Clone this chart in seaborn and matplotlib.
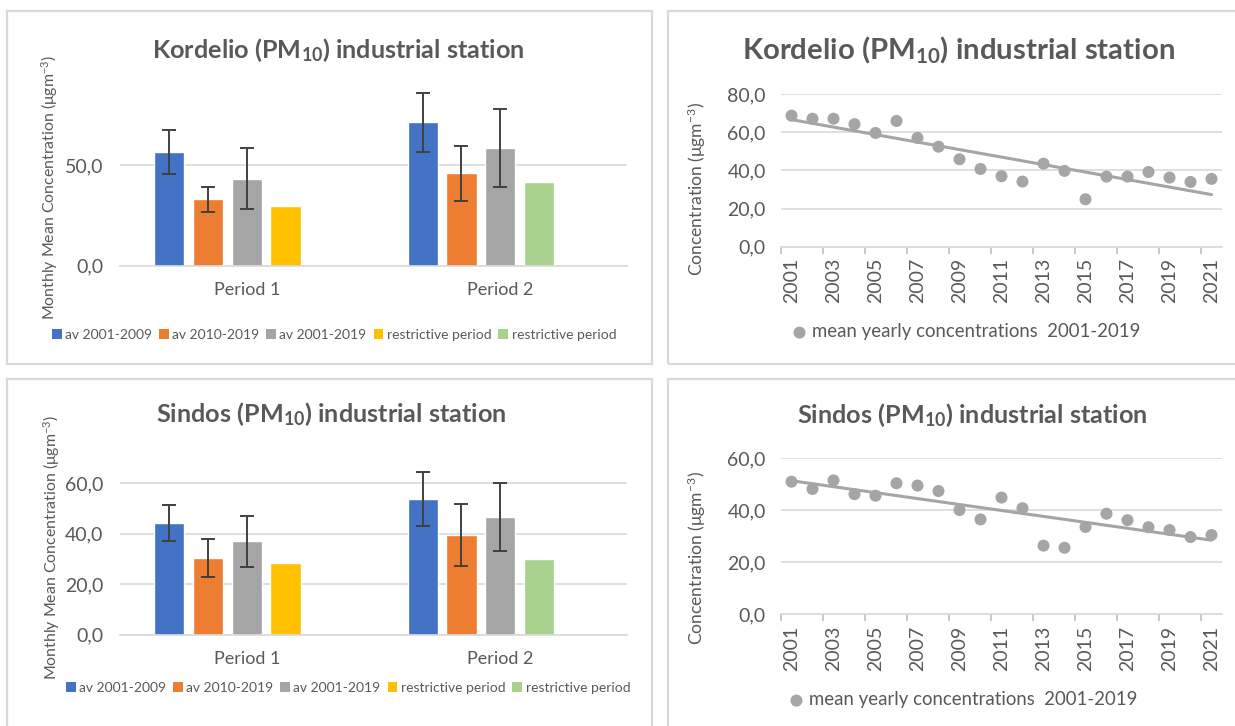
import numpy as np
import pandas as pd
import seaborn as sns
import matplotlib.pyplot as plt
from matplotlib.patches import Rectangle, Patch
from matplotlib.ticker import FuncFormatter, FixedLocator

# ---- data ----
periods = ["Period 1", "Period 2"]
series = ["av 2001-2009", "av 2010-2019", "av 2001-2019", "restrictive period", "restrictive period"]
series_colors = ["#4472C4", "#ED7D31", "#A5A5A5", "#FFC000", "#A9D18E"]

kord_p1 = [56.8, 33.1, 43.4, 29.7]
kord_p2 = [71.4, 46.0, 58.5, 41.7]
kord_err_p1 = [11.0, 6.3, 15.0]
kord_err_p2 = [14.8, 13.7, 19.3]

sind_p1 = [44.1, 30.5, 37.0, 28.3]
sind_p2 = [53.9, 39.6, 46.5, 30.1]
sind_err_p1 = [7.1, 7.5, 10.0]
sind_err_p2 = [10.7, 12.3, 13.5]

years = list(range(2001, 2022))
kord_yearly = [68.8, 67.2, 67.2, 64.3, 59.7, 66.0, 57.1, 52.5, 45.9, 40.8, 37.0,
               34.2, 43.6, 39.8, 24.9, 36.8, 36.8, 39.2, 36.3, 34.0, 35.6]
sind_yearly = [51.0, 48.2, 51.5, 46.2, 45.6, 50.4, 49.5, 47.4, 40.1, 36.5, 44.9,
               40.8, 26.4, 25.6, 33.6, 38.7, 36.2, 33.5, 32.4, 29.7, 30.5]

TXT = "#595959"
GRID = "#D9D9D9"
W, H = 1235, 726

sns.set_theme(style="white")
plt.rcParams["font.family"] = ["Lato", "DejaVu Sans"]
plt.rcParams["mathtext.fontset"] = "custom"
plt.rcParams["mathtext.rm"] = "Lato"
plt.rcParams["mathtext.bf"] = "Lato:bold"
plt.rcParams["mathtext.it"] = "Lato:italic"

fig = plt.figure(figsize=(W / 100, H / 100), dpi=100)


def px_axes(l, t, r, b):
    return fig.add_axes([l / W, 1 - b / H, (r - l) / W, (b - t) / H])


def fx(x):
    return x / W


def fy(y):
    return 1 - y / H


comma = FuncFormatter(lambda v, _: f"{v:.1f}".replace(".", ","))

# panel frames
for (l, t, r, b) in [(7, 11, 652, 364), (668, 11, 1245, 364), (7, 379, 652, 740), (668, 379, 1245, 740)]:
    fig.add_artist(Rectangle((fx(l), fy(b)), (r - l) / W, (b - t) / H, transform=fig.transFigure,
                             fill=False, ec=GRID, lw=1.6))


def bar_panel(ax, p1, p2, e1, e2, ymax, yticks):
    keys = [f"s{i}" for i in range(5)]
    rows = []
    for per, vals in zip(periods, [p1, p2]):
        for k, v in zip(keys, vals + [np.nan]):
            rows.append({"period": per, "series": k, "value": v})
    df = pd.DataFrame(rows)
    sns.barplot(data=df, x="period", y="value", hue="series", hue_order=keys,
                palette=series_colors, saturation=1, errorbar=None, width=0.765, gap=0.22,
                legend=False, ax=ax, zorder=2)
    # the 4th slot in period 2 is the green restrictive period
    ax.containers[3][1].set_facecolor(series_colors[4])
    for i, cont in enumerate(ax.containers[:3]):
        for j, bar in enumerate(cont):
            err = [e1, e2][j][i]
            ax.errorbar(bar.get_x() + bar.get_width() / 2, bar.get_height(), yerr=err,
                        fmt="none", ecolor="#404040", elinewidth=1.4, capsize=5, capthick=1.4, zorder=3)
    ax.set_ylim(0, ymax)
    ax.set_xlim(-0.5, 1.5)
    ax.yaxis.set_major_locator(FixedLocator(yticks))
    ax.yaxis.set_major_formatter(comma)
    ax.grid(axis="y", color=GRID, lw=1.2, zorder=0)
    ax.grid(axis="x", visible=False)
    for s in ["top", "right", "left"]:
        ax.spines[s].set_visible(False)
    ax.spines["bottom"].set_color(GRID)
    ax.spines["bottom"].set_linewidth(1.2)
    ax.tick_params(axis="y", length=0, pad=12, labelsize=14, labelcolor=TXT)
    ax.tick_params(axis="x", length=0, pad=12, labelsize=13, labelcolor=TXT)
    ax.set_xlabel("")
    ax.set_ylabel("")


def scatter_panel(ax, vals, ymax):
    sns.scatterplot(x=years, y=vals, color="#A5A5A5", s=75, edgecolor="none",
                    label="mean yearly concentrations  2001-2019", ax=ax, zorder=3)
    sns.regplot(x=years, y=vals, scatter=False, ci=None, truncate=True,
                line_kws=dict(color="#A5A5A5", lw=2.2), ax=ax)
    ax.set_xlim(2000.5, 2021.5)
    ax.set_ylim(0, ymax)
    ax.yaxis.set_major_locator(FixedLocator(np.arange(0, ymax + 1, 20)))
    ax.yaxis.set_major_formatter(comma)
    ax.xaxis.set_major_locator(FixedLocator(years[::2]))
    ax.set_xticklabels([str(y) for y in years[::2]], rotation=90)
    ax.xaxis.set_minor_locator(FixedLocator(np.arange(2000.5, 2021, 2)))
    ax.grid(axis="y", color=GRID, lw=1.2, zorder=0)
    ax.grid(axis="x", visible=False)
    for s in ["top", "right", "left"]:
        ax.spines[s].set_visible(False)
    ax.spines["bottom"].set_color(GRID)
    ax.spines["bottom"].set_linewidth(1.2)
    ax.tick_params(axis="y", length=0, pad=11, labelsize=14, labelcolor=TXT)
    ax.tick_params(axis="x", which="major", length=0, pad=8, labelsize=14, labelcolor=TXT)
    ax.tick_params(axis="x", which="minor", bottom=True, length=5, width=1.2, color="#BFBFBF")
    ax.set_xlabel("")
    ax.set_ylabel("")


# ---- Kordelio bars ----
ax1 = px_axes(120, 85, 627, 265.7)
bar_panel(ax1, kord_p1, kord_p2, kord_err_p1, kord_err_p2, 90, [0, 50])

# ---- Sindos bars ----
ax3 = px_axes(120, 458, 627, 634.7)
bar_panel(ax3, sind_p1, sind_p2, sind_err_p1, sind_err_p2, 70, [0, 20, 40, 60])

# ---- Kordelio yearly ----
ax2 = px_axes(781, 94.3, 1222, 246.7)
scatter_panel(ax2, kord_yearly, 80)

# ---- Sindos yearly ----
ax4 = px_axes(781, 458.3, 1222, 614.3)
scatter_panel(ax4, sind_yearly, 60)

# titles
fig.text(fx(338), fy(50), r"Kordelio (PM$_{\mathbf{10}}$) industrial station", ha="center", va="center",
         fontsize=18.2, fontweight="bold", color=TXT)
fig.text(fx(958), fy(50), r"Kordelio (PM$_{\mathbf{10}}$) industrial station", ha="center", va="center",
         fontsize=21.2, fontweight="bold", color=TXT)
fig.text(fx(331), fy(414), r"Sindos (PM$_{\mathbf{10}}$) industrial station", ha="center", va="center",
         fontsize=18.2, fontweight="bold", color=TXT)
fig.text(fx(972), fy(415), r"Sindos (PM$_{\mathbf{10}}$) industrial station", ha="center", va="center",
         fontsize=18.2, fontweight="bold", color=TXT)

# axis titles
ylab_bar = r"Monthly Mean Concentration (μgm$^{-3}$)"
ylab_sc = r"Concentration (μgm$^{-3}$)"
fig.text(fx(50), fy(187), ylab_bar, rotation=90, ha="center", va="center", fontsize=11.4, color=TXT)
fig.text(fx(52), fy(547), ylab_bar, rotation=90, ha="center", va="center", fontsize=11.4, color=TXT)
fig.text(fx(697), fy(189), ylab_sc, rotation=90, ha="center", va="center", fontsize=12.6, color=TXT)
fig.text(fx(697), fy(558), ylab_sc, rotation=90, ha="center", va="center", fontsize=12.6, color=TXT)

# legends
handles = [Patch(facecolor=c, edgecolor="none") for c in series_colors]
for ax, (cx, cy) in [(ax1, (334, 335)), (ax3, (348, 688))]:
    ax.legend(handles, series, loc="center", bbox_to_anchor=(fx(cx), fy(cy)), bbox_transform=fig.transFigure,
              ncol=5, frameon=False, fontsize=10, handlelength=0.7, handleheight=0.7,
              handletextpad=0.25, columnspacing=0.5, labelcolor=TXT)
for ax, (cx, cy) in [(ax2, (966, 332)), (ax4, (963, 700))]:
    ax.legend(loc="center", bbox_to_anchor=(fx(cx), fy(cy)), bbox_transform=fig.transFigure,
              frameon=False, fontsize=13.4, handlelength=0.8, handletextpad=0.25, labelcolor=TXT)

fig.savefig("out.png", dpi=100, facecolor="white")
